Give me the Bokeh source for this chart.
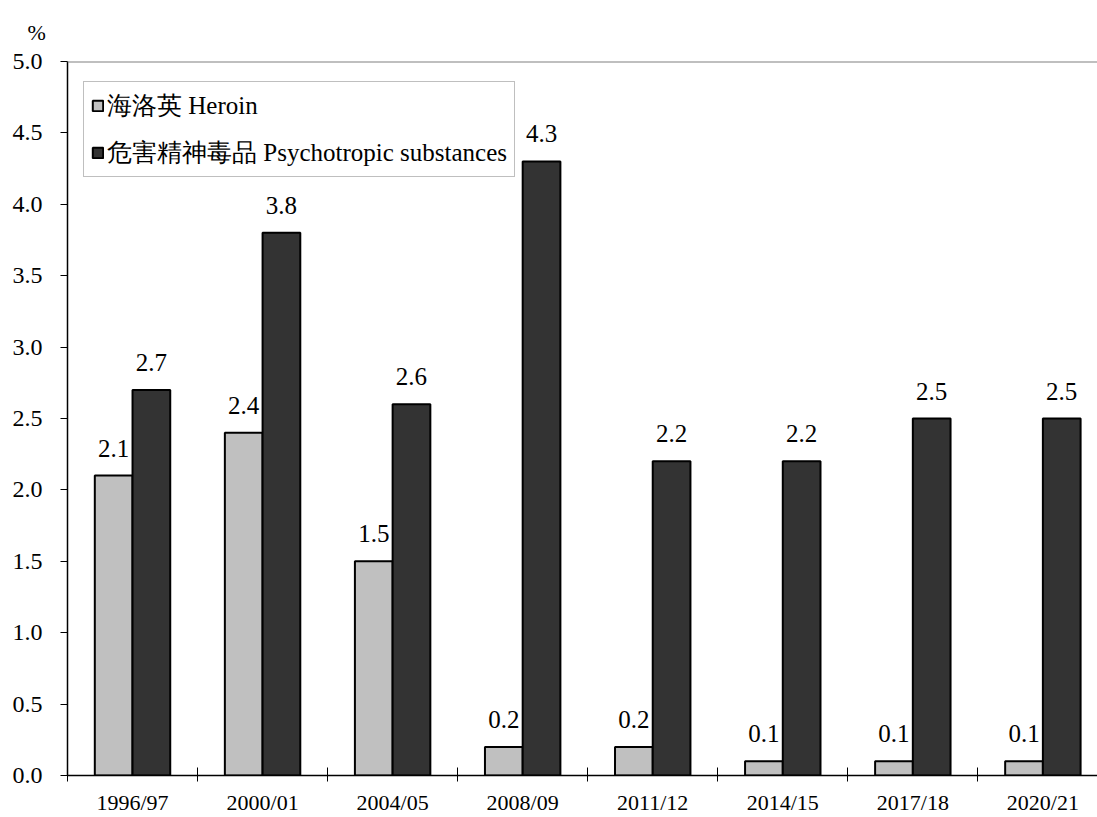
from bokeh.plotting import figure
from bokeh.models import (ColumnDataSource, Range1d, FixedTicker, Span,
                          LabelSet, Legend, LegendItem)
from bokeh.core.properties import value
from bokeh.embed import file_html
from bokeh.resources import INLINE

categories = ["1996/97", "2000/01", "2004/05", "2008/09", "2011/12", "2014/15", "2017/18", "2020/21"]
heroin = [2.1, 2.4, 1.5, 0.2, 0.2, 0.1, 0.1, 0.1]
psychotropic = [2.7, 3.8, 2.6, 4.3, 2.2, 2.2, 2.5, 2.5]
y_ticks = [0.0, 0.5, 1.0, 1.5, 2.0, 2.5, 3.0, 3.5, 4.0, 4.5, 5.0]
legend_labels = ["海洛英 Heroin", "危害精神毒品 Psychotropic substances"]

SERIF = "Liberation Serif"
BAR_W = 0.29
OFF = 0.145

xs = list(range(len(categories)))
src_h = ColumnDataSource(dict(x=[i - OFF for i in xs], top=heroin,
                              lbl=[f"{v:.1f}" for v in heroin]))
src_p = ColumnDataSource(dict(x=[i + OFF for i in xs], top=psychotropic,
                              lbl=[f"{v:.1f}" for v in psychotropic]))

p = figure(width=1097, height=817, output_backend="svg", toolbar_location=None,
           x_range=Range1d(-0.5, 7.42), y_range=Range1d(0, 5.0),
           min_border_left=67, min_border_top=61, min_border_bottom=39, min_border_right=0,
           title="%")
p.outline_line_color = None
p.xgrid.visible = False
p.ygrid.visible = False
p.background_fill_color = "white"

p.title.text_font = SERIF
p.title.text_font_size = "22px"
p.title.text_font_style = "normal"
p.title.text_color = "black"
p.title.align = "left"
p.title.offset = -40
p.title.standoff = 30
p.title.vertical_align = "top"

r_h = p.vbar(x="x", top="top", width=BAR_W, source=src_h, fill_color="#c0c0c0",
             line_color="black", line_width=2)
r_p = p.vbar(x="x", top="top", width=BAR_W, source=src_p, fill_color="#333333",
             line_color="black", line_width=2)

for src in (src_h, src_p):
    ls = LabelSet(x="x", y="top", text="lbl", source=src, text_align="center",
                  text_baseline="alphabetic", y_offset=19, text_font=value(SERIF),
                  text_font_size="25px", text_color="black")
    p.add_layout(ls)

# top border line
p.add_layout(Span(location=5.0, dimension="width", line_color="#808080", line_width=2))

# x axis: labels at centers, ticks at boundaries (minor ticks)
xa = p.xaxis[0]
xa.ticker = FixedTicker(ticks=xs, minor_ticks=[i - 0.5 for i in range(len(categories) + 1)])
xa.major_label_overrides = {i: c for i, c in enumerate(categories)}
xa.major_tick_in = 0
xa.major_tick_out = 0
xa.minor_tick_in = 8
xa.minor_tick_out = 6
xa.minor_tick_line_color = "black"
xa.axis_line_color = "black"
xa.axis_line_width = 1.5
xa.major_label_text_font = SERIF
xa.major_label_text_font_size = "22px"
xa.major_label_text_color = "black"
xa.major_label_standoff = 8

ya = p.yaxis[0]
ya.ticker = FixedTicker(ticks=y_ticks)
ya.major_label_overrides = {t: f"{t:.1f}" for t in y_ticks}
ya.major_tick_in = 0
ya.major_tick_out = 7
ya.minor_tick_line_color = None
ya.axis_line_color = "black"
ya.axis_line_width = 1.5
ya.major_label_text_font = SERIF
ya.major_label_text_font_size = "24px"
ya.major_label_text_color = "black"
ya.major_label_standoff = 18

legend = Legend(items=[LegendItem(label=legend_labels[0], renderers=[r_h]),
                       LegendItem(label=legend_labels[1], renderers=[r_p])],
                location=(16, 598), orientation="vertical")
legend.label_text_font = SERIF
legend.label_text_font_size = "25px"
legend.label_text_color = "black"
legend.glyph_width = 13
legend.glyph_height = 13
legend.label_height = 25
legend.spacing = 14
legend.padding = 7
legend.margin = 0
legend.label_standoff = 3
legend.border_line_color = "#808080"
legend.border_line_width = 1
legend.background_fill_color = "white"
legend.background_fill_alpha = 1
p.add_layout(legend)

open("out.html", "w").write(file_html(p, INLINE))
